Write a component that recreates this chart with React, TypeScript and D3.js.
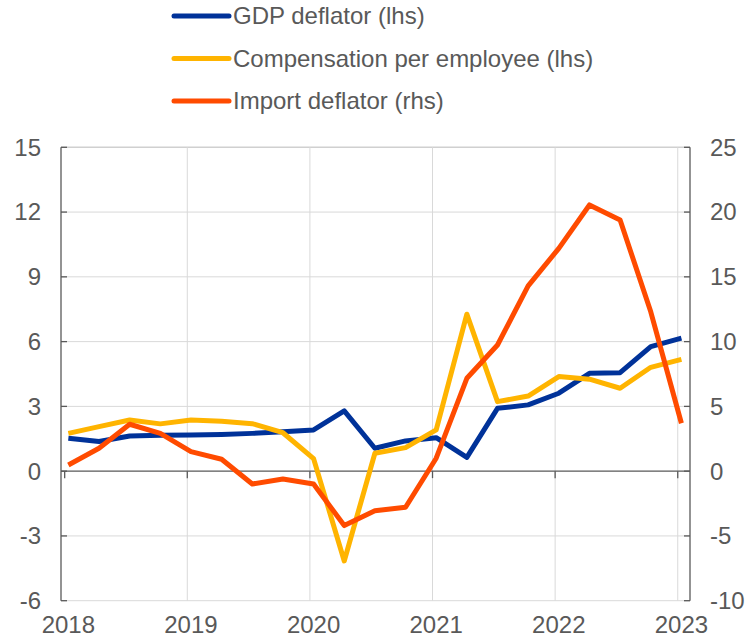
import React from "react";
import * as d3 from "d3";

const quarters: number[] = [
  2018.0, 2018.25, 2018.5, 2018.75, 2019.0, 2019.25, 2019.5, 2019.75,
  2020.0, 2020.25, 2020.5, 2020.75, 2021.0, 2021.25, 2021.5, 2021.75,
  2022.0, 2022.25, 2022.5, 2022.75, 2023.0,
];
const gdpDeflator: number[] = [
  1.52, 1.37, 1.63, 1.66, 1.68, 1.7, 1.75, 1.83, 1.91, 2.79, 1.06, 1.4,
  1.55, 0.64, 2.91, 3.07, 3.61, 4.53, 4.56, 5.77, 6.16,
];
const compensation: number[] = [
  1.75, 2.06, 2.37, 2.19, 2.37, 2.31, 2.2, 1.78, 0.58, -4.16, 0.83, 1.09,
  1.91, 7.27, 3.22, 3.48, 4.38, 4.26, 3.84, 4.81, 5.18,
];
const importDeflator: number[] = [
  0.48, 1.77, 3.62, 2.92, 1.51, 0.92, -0.99, -0.6, -0.99, -4.2, -3.05, -2.79,
  1.0, 7.17, 9.74, 14.3, 17.2, 20.55, 19.39, 12.3, 3.7,
];
const leftTicks: number[] = [-6, -3, 0, 3, 6, 9, 12, 15];
const rightTicks: number[] = [-10, -5, 0, 5, 10, 15, 20, 25];
const yearTicks: number[] = [2018, 2019, 2020, 2021, 2022, 2023];
const legendLabels: string[] = [
  "GDP deflator (lhs)",
  "Compensation per employee (lhs)",
  "Import deflator (rhs)",
];
const colors: string[] = ["#003299", "#FFB400", "#FF4B00"];

const W = 748;
const H = 639;
const X0 = 61;
const X1 = 690;
const Y0 = 147.3;
const Y1 = 600.7;
const TEXT = "#595959";
const GRID = "#d9d9d9";
const FONT = "'Liberation Sans', Arial, sans-serif";
const FS = 24;

export default function App() {
  const x = d3.scaleLinear().domain([2017.97, 2023.1]).range([X0, X1]);
  const yl = d3.scaleLinear().domain([-6, 15]).range([Y1, Y0]);
  const yr = d3.scaleLinear().domain([-10, 25]).range([Y1, Y0]);
  const pointX = (q: number) => x(q + 0.03);

  const lineL = d3
    .line<number>()
    .x((_, i) => pointX(quarters[i]))
    .y((d) => yl(d));
  const lineR = d3
    .line<number>()
    .x((_, i) => pointX(quarters[i]))
    .y((d) => yr(d));

  const series = [
    { path: lineL(gdpDeflator), color: colors[0] },
    { path: lineL(compensation), color: colors[1] },
    { path: lineR(importDeflator), color: colors[2] },
  ];

  return (
    <svg
      width={W}
      height={H}
      style={{ position: "absolute", left: 0, top: 0, background: "#fff" }}
      fontFamily={FONT}
    >
      {/* legend */}
      {legendLabels.map((lab, i) => {
        const ly = 16 + i * 42.5;
        return (
          <g key={lab}>
            <line
              x1={174}
              x2={229}
              y1={ly}
              y2={ly}
              stroke={colors[i]}
              strokeWidth={5}
              strokeLinecap="round"
            />
            <text x={233} y={ly} dy="0.35em" fontSize={FS} fill={TEXT}>
              {lab}
            </text>
          </g>
        );
      })}

      {/* horizontal gridlines */}
      {leftTicks.map((t) =>
        t === 0 ? null : (
          <line
            key={"hg" + t}
            x1={X0}
            x2={X1}
            y1={yl(t)}
            y2={yl(t)}
            stroke={t === 15 ? "#d0d0d0" : GRID}
            strokeWidth={t === 15 ? 1.5 : 1}
          />
        )
      )}
      {/* vertical gridlines */}
      {yearTicks.slice(1).map((yr0) => (
        <line
          key={"vg" + yr0}
          x1={x(yr0)}
          x2={x(yr0)}
          y1={Y0}
          y2={Y1}
          stroke={GRID}
          strokeWidth={1}
        />
      ))}

      {/* axes */}
      <line x1={X0} x2={X0} y1={Y0} y2={Y1} stroke={TEXT} strokeWidth={1.3} />
      <line x1={X1} x2={X1} y1={Y0} y2={Y1} stroke={TEXT} strokeWidth={1.3} />
      <line x1={X0} x2={X1} y1={yl(0)} y2={yl(0)} stroke={TEXT} strokeWidth={1.3} />
      {leftTicks.map((t) => (
        <g key={"lt" + t}>
          <line x1={X0} x2={X0 + 6} y1={yl(t)} y2={yl(t)} stroke={TEXT} strokeWidth={1.3} />
          <text
            x={41}
            y={yl(t)}
            dy="0.35em"
            textAnchor="end"
            fontSize={FS}
            fill={TEXT}
          >
            {t}
          </text>
        </g>
      ))}
      {rightTicks.map((t) => (
        <g key={"rt" + t}>
          <line x1={X1 - 6} x2={X1} y1={yr(t)} y2={yr(t)} stroke={TEXT} strokeWidth={1.3} />
          <text x={710} y={yr(t)} dy="0.35em" fontSize={FS} fill={TEXT}>
            {t}
          </text>
        </g>
      ))}
      {yearTicks.map((yy) => (
        <g key={"xt" + yy}>
          <line
            x1={x(yy)}
            x2={x(yy)}
            y1={yl(0)}
            y2={yl(0) + 7}
            stroke={TEXT}
            strokeWidth={1.3}
          />
          <text
            x={pointX(yy)}
            y={633}
            textAnchor="middle"
            fontSize={FS}
            fill={TEXT}
          >
            {yy}
          </text>
        </g>
      ))}

      {/* series */}
      {series.map((s, i) => (
        <path
          key={"s" + i}
          d={s.path ?? ""}
          fill="none"
          stroke={s.color}
          strokeWidth={5}
          strokeLinejoin="round"
          strokeLinecap="butt"
        />
      ))}
    </svg>
  );
}
